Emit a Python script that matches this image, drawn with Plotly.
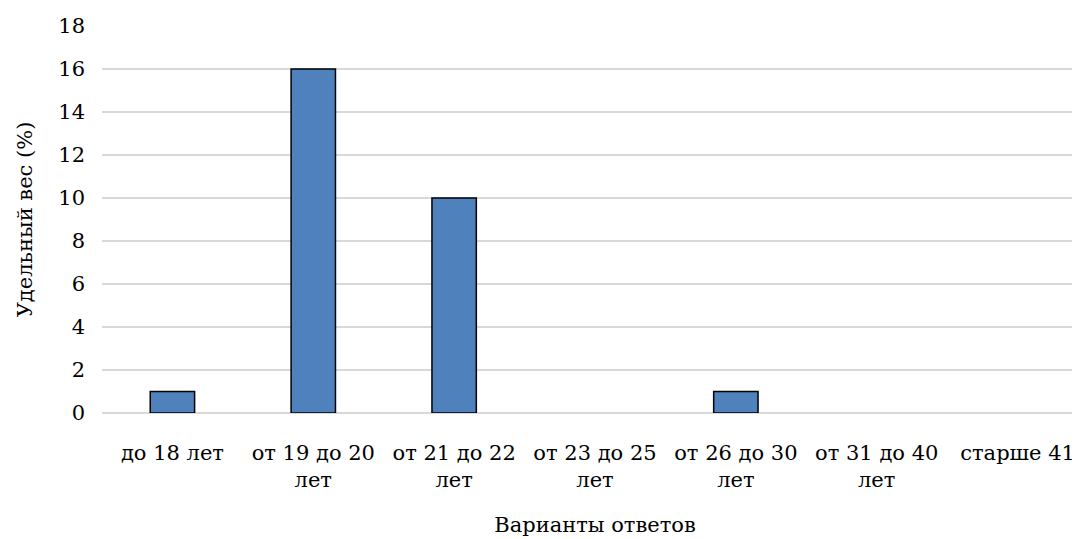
import plotly.graph_objects as go

categories = ["до 18 лет", "от 19 до 20<br>лет", "от 21 до 22<br>лет", "от 23 до 25<br>лет",
              "от 26 до 30<br>лет", "от 31 до 40<br>лет", "старше 41"]
values = [1, 16, 10, 0, 1, 0, 0]
y_ticks = [0, 2, 4, 6, 8, 10, 12, 14, 16, 18]

FONT = "DejaVu Serif"
SIZE = 21
line_widths = [1.5 if v > 0 else 0 for v in values]

fig = go.Figure(go.Bar(
    x=categories, y=values,
    marker=dict(color="#4F81BD", line=dict(color="black", width=line_widths)),
))

fig.update_layout(
    width=1080, height=539,
    margin=dict(l=94, r=0, t=18, b=134),
    paper_bgcolor="white", plot_bgcolor="white",
    bargap=0.685,
    showlegend=False,
    font=dict(family=FONT, size=SIZE, color="black"),
)
fig.update_xaxes(
    title=dict(text="Варианты ответов", font=dict(family=FONT, size=SIZE), standoff=26),
    tickfont=dict(family=FONT, size=SIZE),
    tickangle=0,
    showgrid=False, showline=False, ticks="",
    ticklabelstandoff=25,
)
fig.update_yaxes(
    title=dict(text="Удельный вес (%)", font=dict(family=FONT, size=SIZE), standoff=19),
    range=[0, 18], tickvals=y_ticks,
    tickfont=dict(family=FONT, size=SIZE),
    showgrid=True, gridcolor="#D9D9D9", gridwidth=1.5,
    zeroline=True, zerolinecolor="#D9D9D9", zerolinewidth=1.5,
    showline=False, ticks="",
    ticklabelstandoff=16,
)

fig.write_html("out.html")
